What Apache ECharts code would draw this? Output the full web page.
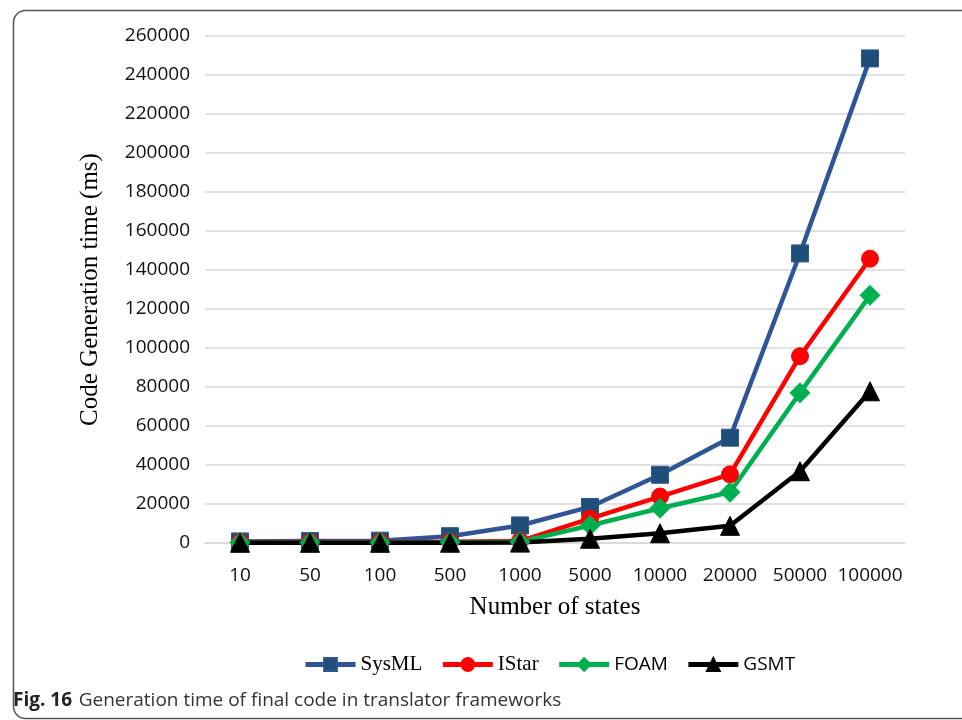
<!DOCTYPE html>
<html>
<head>
<meta charset="utf-8">
<script src="https://cdn.jsdelivr.net/npm/echarts@6/dist/echarts.min.js"></script>
<style>
  html, body { margin: 0; padding: 0; background: #fff; }
  #chart { width: 962px; height: 720px; }
</style>
</head>
<body>
<div id="chart"></div>
<script>
// categories on the x axis
const states = ['10', '50', '100', '500', '1000', '5000', '10000', '20000', '50000', '100000']

// generation time (ms)
const sysml = [800, 1000, 1200, 3500, 9000, 18500, 35000, 54000, 148500, 248500]
const istar = [500, 500, 500, 700, 1000, 12500, 23800, 35200, 95800, 145800]
const foam = [300, 300, 300, 400, 600, 9000, 17800, 26000, 77000, 127000]
const gsmt = [100, 100, 100, 150, 200, 2200, 5000, 8800, 36800, 77800]

const seriesDefs = [
  { name: 'SysML', data: sysml, line: '#2F5597', fill: '#1F4E79', symbol: 'rect', size: 17 },
  { name: 'IStar', data: istar, line: '#FF0000', fill: '#FF0000', symbol: 'circle', size: 17 },
  { name: 'FOAM', data: foam, line: '#00B050', fill: '#00B050', symbol: 'diamond', size: 20 },
  { name: 'GSMT', data: gsmt, line: '#000000', fill: '#000000', symbol: 'triangle', size: 19 }
]

const chart = echarts.init(document.getElementById('chart'), null, { renderer: 'canvas' })

const series = seriesDefs.map(s => ({
  name: s.name,
  type: 'line',
  data: s.data,
  symbol: s.symbol,
  symbolSize: s.size,
  showSymbol: true,
  lineStyle: { width: 4.5, color: s.line },
  itemStyle: { color: s.fill, borderColor: s.line, borderWidth: 1 },
  emphasis: { disabled: true },
  animation: false
}))

chart.setOption({
  animation: false,
  grid: { left: 205, right: 57, top: 36, bottom: 177, containLabel: false },
  legend: {
    bottom: 40,
    left: 298,
    itemWidth: 50,
    itemHeight: 16,
    itemGap: 18,
    data: seriesDefs.map(s => s.name),
    lineStyle: { width: 5 },
    formatter: name => (name === 'SysML' || name === 'IStar') ? '{serif|' + name + '}' : '{sans|' + name + '}',
    textStyle: {
      color: '#000',
      rich: {
        serif: { fontFamily: 'Liberation Serif', fontSize: 21, color: '#000' },
        sans: { fontFamily: 'Open Sans', fontSize: 19, color: '#000' }
      }
    }
  },
  xAxis: {
    type: 'category',
    data: states,
    boundaryGap: true,
    name: 'Number of states',
    nameLocation: 'middle',
    nameGap: 52,
    nameTextStyle: { fontFamily: 'Liberation Serif', fontSize: 25, color: '#000' },
    axisLine: { show: true, lineStyle: { color: '#d9d9d9', width: 1.5 } },
    axisTick: { show: false },
    axisLabel: { fontFamily: 'Open Sans', fontSize: 19, color: '#111', margin: 23, interval: 0 }
  },
  yAxis: {
    type: 'value',
    min: 0,
    max: 260000,
    interval: 20000,
    name: 'Code Generation time (ms)',
    nameLocation: 'middle',
    nameGap: 102,
    nameTextStyle: { fontFamily: 'Liberation Serif', fontSize: 25, color: '#000' },
    axisLine: { show: false },
    axisTick: { show: false },
    splitLine: { lineStyle: { color: '#d9d9d9', width: 1.5 } },
    axisLabel: { fontFamily: 'Open Sans', fontSize: 19, color: '#111', margin: 15, formatter: v => String(v) }
  },
  graphic: [
    {
      type: 'rect',
      left: 11,
      top: 8,
      shape: { width: 1000, height: 708, r: 12 },
      style: { fill: 'none', stroke: '#555', lineWidth: 1.5 },
      silent: true
    },
    {
      type: 'text',
      left: 13,
      top: 691,
      style: {
        text: '{b|Fig. 16}  {n|Generation time of final code in translator frameworks}',
        rich: {
          b: { fontFamily: 'Open Sans', fontWeight: 'bold', fontSize: 19, fill: '#222' },
          n: { fontFamily: 'Open Sans', fontSize: 19, fill: '#333' }
        }
      }
    }
  ],
  series
})
</script>
</body>
</html>
